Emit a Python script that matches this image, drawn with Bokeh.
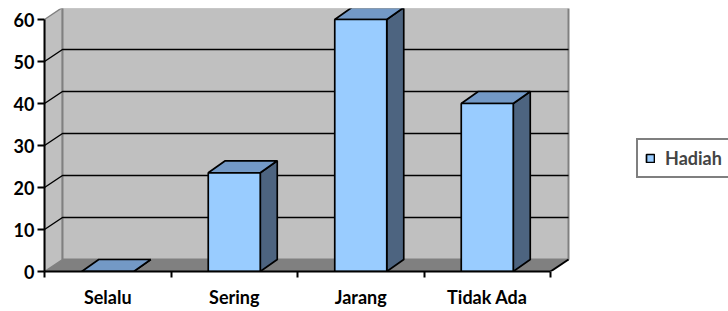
from bokeh.plotting import figure
from bokeh.models import Range1d, FixedTicker, Legend, LegendItem, ColumnDataSource
from bokeh.embed import file_html
from bokeh.resources import INLINE

# ---- data ----
categories = ["Selalu", "Sering", "Jarang", "Tidak Ada"]
hadiah = [0, 23.5, 60, 40]
y_ticks = [0, 10, 20, 30, 40, 50, 60]
series_name = "Hadiah"

# ---- geometry (in data units of the front plane) ----
PX_X = 126.5           # px per category
PX_Y = 4.2             # px per value unit
wall_dx = 18 / PX_X
wall_dy = 12 / PX_Y
bar_dx = 17 / PX_X
bar_dy = 12 / PX_Y
half_w = 26 / PX_X
n = len(categories)
ymax = y_ticks[-1]

FONT = "Lato"
W, H = 728, 311
LEFT, TOP, BOTTOM = 44, 8, 40
frame_w = W - LEFT
frame_h = H - TOP - BOTTOM

p = figure(width=W, height=H, x_range=Range1d(0, frame_w / PX_X), y_range=Range1d(0, frame_h / PX_Y),
           output_backend="svg", toolbar_location=None,
           min_border_left=LEFT, min_border_right=0, min_border_top=TOP, min_border_bottom=BOTTOM)
p.outline_line_color = None
p.grid.visible = False
p.background_fill_color = "white"
p.border_fill_color = "white"

# walls
p.patch([0, wall_dx, wall_dx, 0], [0, wall_dy, ymax + wall_dy, ymax],
        fill_color="#C0C0C0", line_color="#808080", line_width=1.5)
p.quad(left=[wall_dx], right=[n + wall_dx], bottom=[wall_dy], top=[ymax + wall_dy],
       fill_color="#C0C0C0", line_color="#808080", line_width=2)
# floor
p.patch([0, wall_dx, n + wall_dx, n], [0, wall_dy, wall_dy, 0],
        fill_color="#808080", line_color=None)
p.line([n, n + wall_dx], [0, wall_dy], line_color="black", line_width=2)

# gridlines
gx, gy = [], []
for t in y_ticks[1:-1]:
    gx.append([0, wall_dx, n + wall_dx])
    gy.append([t, t + wall_dy, t + wall_dy])
p.multi_line(gx, gy, line_color="black", line_width=1.5)

# bars
centers = [i + 0.5 for i in range(n)]
front = ColumnDataSource(dict(left=[c - half_w for c in centers], right=[c + half_w for c in centers],
                              bottom=[0] * n, top=hadiah))
tops_x, tops_y, side_x, side_y = [], [], [], []
for c, v in zip(centers, hadiah):
    l, r = c - half_w, c + half_w
    tops_x.append([l, l + bar_dx, r + bar_dx, r])
    tops_y.append([v, v + bar_dy, v + bar_dy, v])
    side_x.append([r, r, r + bar_dx, r + bar_dx])
    side_y.append([0, v, v + bar_dy, bar_dy])
p.patches(side_x, side_y, fill_color="#4D6480", line_color="black", line_width=1.7)
p.patches(tops_x, tops_y, fill_color="#7399C6", line_color="black", line_width=1.7)
fr = p.quad(left="left", right="right", bottom="bottom", top="top", source=front,
            fill_color="#99CCFF", line_color="black", line_width=1.7)

# axes
yax = p.yaxis[0]
yax.ticker = FixedTicker(ticks=y_ticks, minor_ticks=[])
yax.bounds = (0, ymax)
yax.axis_line_width = 2
yax.major_tick_line_width = 2
yax.major_tick_out = 7
yax.major_tick_in = 0
yax.major_label_standoff = 3
yax.major_label_text_font = FONT
yax.major_label_text_font_style = "bold"
yax.major_label_text_font_size = "18px"
yax.major_label_text_color = "black"

xax = p.xaxis[0]
xax.ticker = FixedTicker(ticks=centers, minor_ticks=list(range(n + 1)))
overrides = {}
for c, name in zip(centers, categories):
    overrides[c] = name
    overrides[str(c)] = name
xax.major_label_overrides = overrides
xax.bounds = (0, n)
xax.axis_line_width = 2
xax.major_tick_out = 0
xax.major_tick_in = 0
xax.minor_tick_out = 6
xax.minor_tick_in = 0
xax.minor_tick_line_width = 2
xax.major_label_standoff = 8
xax.major_label_text_font = FONT
xax.major_label_text_font_style = "bold"
xax.major_label_text_font_size = "18px"
xax.major_label_text_color = "black"

legend = Legend(items=[LegendItem(label=series_name, renderers=[fr])],
                location=(592, 93), orientation="vertical",
                border_line_color="black", border_line_width=2,
                padding=7, margin=0, glyph_width=10, glyph_height=10, label_standoff=10,
                label_text_font=FONT, label_text_font_style="bold", label_text_font_size="18px",
                background_fill_color="white", background_fill_alpha=1)
p.add_layout(legend, "center")

open("out.html", "w").write(file_html(p, INLINE))
